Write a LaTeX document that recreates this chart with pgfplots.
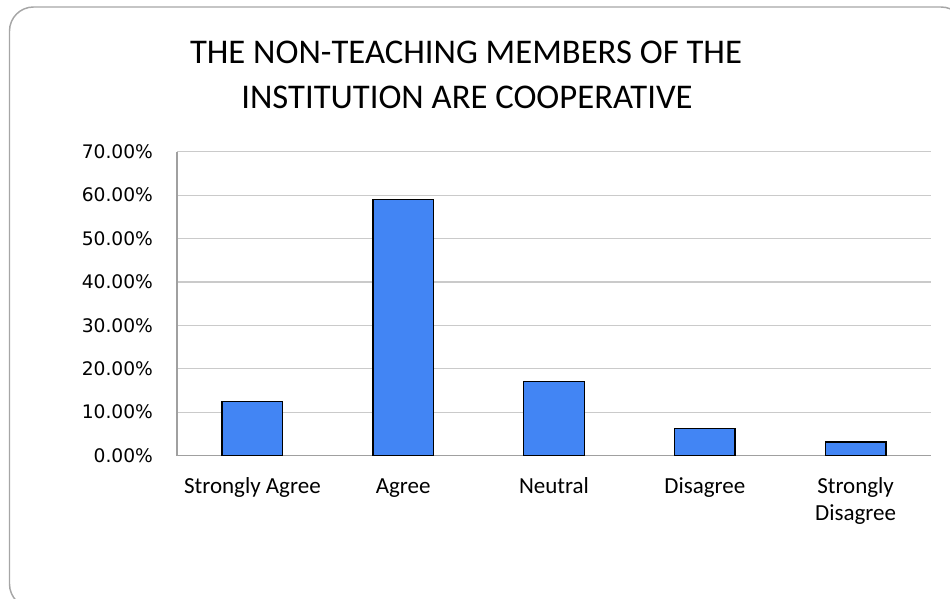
\documentclass[border=0pt]{standalone}
\usepackage{fontspec}
\setmainfont{Carlito}
\newfontfamily\dejavu{DejaVu Sans}
\usepackage{pgfplots}
\pgfplotsset{compat=1.18}
\definecolor{barblue}{HTML}{4285F4}
\definecolor{gridgray}{HTML}{CACACA}
\definecolor{axisgray}{HTML}{A0A0A0}
\definecolor{bordergray}{HTML}{A6A6A6}
\begin{document}
\begin{tikzpicture}
\path[use as bounding box] (0,0) rectangle ({950*0.75pt},{-599*0.75pt});
\begin{scope}
\clip (0,0) rectangle ({950*0.75pt},{-599*0.75pt});
\draw[bordergray, line width=1.1pt, rounded corners=18pt] ({9.5*0.75pt},{-7*0.75pt}) rectangle ({965*0.75pt},{-608*0.75pt});
\end{scope}
\node[font=\fontsize{26}{32}\selectfont, anchor=base, inner sep=0pt] at ({466*0.75pt},{-63.3*0.75pt}) {THE NON-TEACHING MEMBERS OF THE};
\node[font=\fontsize{26}{32}\selectfont, anchor=base, inner sep=0pt] at ({467*0.75pt},{-108.3*0.75pt}) {INSTITUTION ARE COOPERATIVE};
\begin{axis}[
  at={({177*0.75pt},{-455.5*0.75pt})}, anchor=south west,
  scale only axis, width=565.5pt, height=227.85pt,
  xmin=-0.5, xmax=4.5, ymin=0, ymax=70,
  ytick={0,10,...,70},
  xtick={0,1,2,3,4},
  xticklabels={Strongly Agree, Agree, Neutral, Disagree, {Strongly\\Disagree}},
  typeset ticklabels with strut,
  xticklabel style={align=center, font=\fontsize{17.25}{20}\selectfont},
  xticklabel shift=11pt,
  yticklabel={\pgfmathprintnumber[fixed,fixed zerofill,precision=2]{\tick}\%},
  /pgf/number format/assume math mode=true,
  yticklabel style={font=\dejavu\fontsize{14}{16}\selectfont},
  yticklabel shift=14.5pt,
  major tick length=0pt,
  axis x line*=bottom, axis y line*=left,
  axis line style={-, draw=axisgray, line width=0.9pt},
  ymajorgrids, grid style={gridgray, line width=0.9pt},
  ybar, bar width=45.5pt,
]
\addplot[fill=barblue, draw=black, line width=1pt] coordinates {(0,12.4) (1,59.0) (2,17.1) (3,6.2) (4,3.1)};
\end{axis}
\end{tikzpicture}
\end{document}
